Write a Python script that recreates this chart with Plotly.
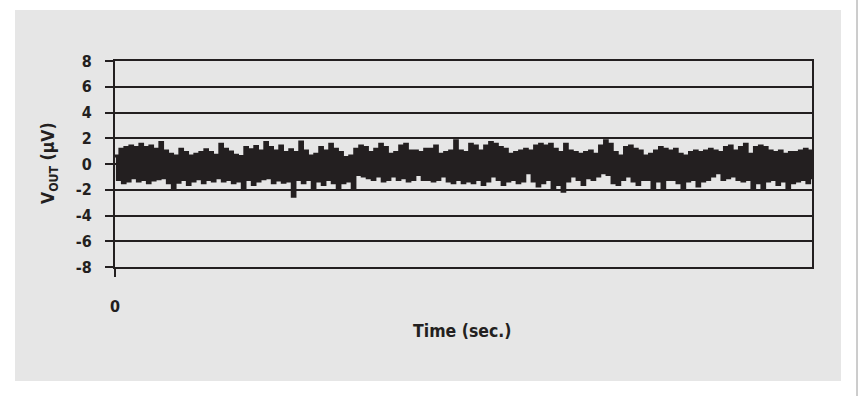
import plotly.graph_objects as go

# Noise trace: for each time column, upper and lower excursion (uV)
upper = [
    0.62, 1.14, 1.27, 1.40, 1.27, 1.53, 1.27, 1.40, 1.14, 1.66, 1.01, 0.75, 0.62, 1.14, 0.88, 0.62, 0.75, 0.88,
    1.09, 0.88, 0.67, 1.53, 1.14, 0.93, 0.67, 0.57, 1.27, 1.09, 1.35, 1.01, 1.66, 1.27, 1.01, 1.40, 0.88, 1.09,
    0.88, 1.71, 1.01, 0.62, 0.75, 1.27, 1.01, 1.53, 1.14, 0.88, 0.49, 0.62, 1.14, 1.40, 1.27, 0.88, 1.14, 1.53,
    1.27, 0.75, 0.88, 1.40, 1.53, 1.01, 1.01, 0.88, 1.14, 1.14, 1.40, 0.75, 0.88, 1.01, 1.79, 1.01, 0.88,
    1.53, 1.40, 1.01, 1.40, 1.66, 1.53, 1.27, 1.14, 0.75, 0.88, 1.01, 1.14, 1.01, 1.40, 1.53, 1.40, 1.53,
    1.14, 0.88, 1.53, 1.01, 0.88, 0.75, 0.88, 1.01, 0.75, 1.40, 1.79, 1.53, 0.88, 0.62, 1.27, 1.40, 1.14, 1.01,
    0.62, 0.75, 1.01, 1.27, 1.14, 1.01, 1.14, 0.75, 0.62, 0.88, 1.01, 0.88, 1.01, 1.14, 1.01, 0.88, 1.27, 1.40,
    1.01, 1.27, 1.53, 0.75, 1.27, 1.40, 1.27, 1.01, 0.88, 1.01, 0.75, 0.88, 0.88, 1.01, 1.14, 1.01,
]
lower = [
    -1.19, -1.45, -1.32, -1.06, -1.32, -1.19, -1.45, -1.24, -1.14, -1.06, -1.45, -1.92, -1.40, -1.19, -1.58, -1.32,
    -1.14, -1.45, -1.19, -1.32, -1.06, -1.32, -1.19, -1.45, -1.32, -1.92, -1.19, -1.58, -1.32, -1.14, -1.06, -1.45,
    -1.24, -1.40, -1.32, -2.49,
    -1.19, -1.45, -1.19, -1.84, -1.32, -1.58, -1.19, -1.45, -1.84, -1.45, -1.32, -1.97, -0.80, -0.93, -1.06, -1.19,
    -0.93, -1.32, -1.19, -0.93, -1.19, -1.06, -1.32, -1.19, -0.80, -1.19, -1.19, -1.32, -1.19, -0.93, -1.32, -1.45,
    -1.19, -1.45, -1.32,
    -1.45, -1.19, -1.58, -1.32, -0.93, -1.19, -1.58, -1.32, -1.19, -1.45, -1.32, -0.67, -1.32, -1.71, -1.45, -1.19,
    -1.84, -1.58, -2.10, -1.32, -0.93, -1.19, -1.58, -1.06, -1.19, -0.93, -0.67, -0.80, -1.45, -1.58, -1.19, -0.93,
    -1.32, -1.58, -1.19,
    -1.19, -1.84, -1.32, -1.84, -1.19, -1.19, -1.45, -1.97, -1.32, -1.19, -1.71, -1.32, -1.19, -0.93, -0.67, -1.19,
    -1.06, -0.93, -1.19, -1.32, -1.19, -1.84, -1.45, -1.84, -1.32, -1.19, -1.58, -1.32, -1.84, -1.45, -1.32, -1.19,
    -1.45, -1.19,
]
y_ticks = [-8, -6, -4, -2, 0, 2, 4, 6, 8]
x_ticks = [0]
x_title = "Time (sec.)"
y_title = "V<sub>OUT</sub> (μV)"

n = min(len(upper), len(lower))
t, v = [], []
for i in range(n):
    t.append(i)
    v.append(upper[i])
    t.append(i + 0.5)
    v.append(lower[i])

W, H = 858, 396
L, R, T, B = 115, 812, 61, 267
pw, ph = R - L, B - T


def px(x):
    return (x - L) / pw


def py(y):
    return (B - y) / ph


FONT = "DejaVu Sans Condensed, Liberation Sans Narrow, sans-serif"
INK = "#231f20"
FS = 16
FT = 17.5

fig = go.Figure()
fig.add_trace(go.Scatter(x=t, y=v, mode="lines", line=dict(color=INK, width=3.2, shape="hv"),
                         hoverinfo="skip", showlegend=False))

fig.update_layout(
    width=W, height=H,
    margin=dict(l=L, r=W - R, t=T, b=H - B, pad=0),
    paper_bgcolor="white", plot_bgcolor="white",
    font=dict(family=FONT, size=FS, color=INK),
    showlegend=False,
    shapes=[
        dict(type="rect", xref="paper", yref="paper", x0=px(15), x1=px(841), y0=py(381), y1=py(10),
             fillcolor="#e6e6e6", line=dict(width=0), layer="below"),
        dict(type="line", xref="paper", yref="paper", x0=px(857), x1=px(857), y0=py(396), y1=py(0),
             line=dict(color="#9a9a9a", width=1)),
    ],
    annotations=[
        dict(text=f"<b>{x_title}</b>", xref="paper", yref="paper", x=px(462), y=py(331),
             xanchor="center", yanchor="middle", showarrow=False, font=dict(size=FT, family=FONT, color=INK)),
        dict(text=f"<b>{y_title}</b>", xref="paper", yref="paper", x=px(49), y=py(163),
             xanchor="center", yanchor="middle", textangle=-90, showarrow=False,
             font=dict(size=FT, family=FONT, color=INK)),
    ],
)
fig.update_xaxes(range=[0, n - 0.5], tickvals=x_ticks, ticktext=[f"<b>{x}</b>" for x in x_ticks],
                 ticks="outside", ticklen=8, tickwidth=1.5, tickcolor=INK, ticklabelstandoff=16,
                 showline=True, linecolor=INK, linewidth=2, mirror=True, showgrid=False, zeroline=False,
                 tickfont=dict(size=FS, family=FONT, color=INK))
fig.update_yaxes(range=[-8, 8], tickvals=y_ticks, ticktext=[f"<b>{y}</b>" for y in y_ticks],
                 ticks="outside", ticklen=8, tickwidth=1.5, tickcolor=INK, ticklabelstandoff=10,
                 showline=True, linecolor=INK, linewidth=2, mirror=True, showgrid=True,
                 gridcolor=INK, gridwidth=1.5, zeroline=False,
                 tickfont=dict(size=FS, family=FONT, color=INK))

fig.write_html("out.html", config={"displayModeBar": False},
               post_script="document.body.style.margin='0';document.body.style.padding='0';")
